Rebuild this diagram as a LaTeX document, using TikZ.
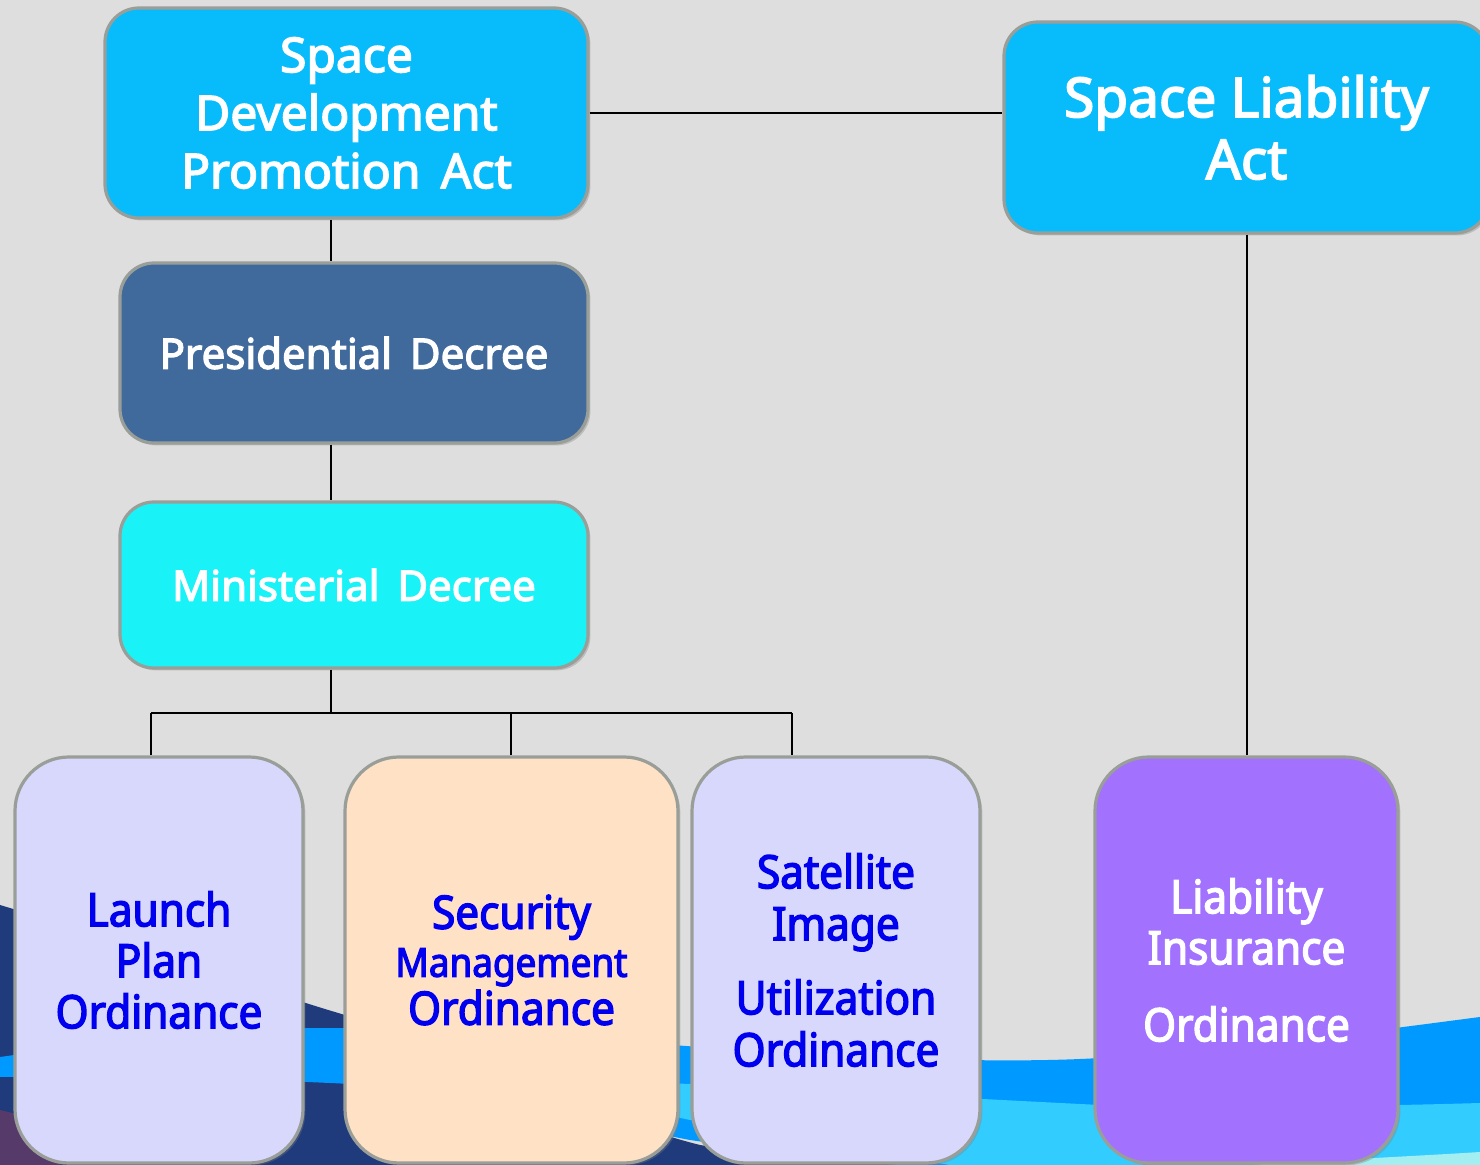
\documentclass[tikz,border=0pt]{standalone}
\usepackage{fontspec}
\setmainfont{Noto Sans}[AutoFakeBold=3]
\newfontfamily\condfont{Noto Sans}[AutoFakeBold=3, FakeStretch=0.92]
\usetikzlibrary{shadows}
\definecolor{bg}{HTML}{DEDEDE}
\definecolor{navy}{HTML}{1F3B7B}
\definecolor{wblue}{HTML}{0099FF}
\definecolor{wlight}{HTML}{33CCFF}
\definecolor{wpale}{HTML}{A3EEF0}
\definecolor{wpurple}{HTML}{553A6A}
\definecolor{actc}{HTML}{08BCFC}
\definecolor{presc}{HTML}{40699C}
\definecolor{minc}{HTML}{19F2F6}
\definecolor{lavc}{HTML}{D8D8FD}
\definecolor{peachc}{HTML}{FFE1C5}
\definecolor{purpc}{HTML}{A271FE}
\definecolor{rim}{HTML}{9A9E98}
\definecolor{txtblue}{HTML}{0000EE}
\begin{document}
\begin{tikzpicture}[x=0.5pt,y=-0.5pt,
  box/.style={rounded corners=17pt, draw=rim, line width=1.6pt, align=center,
    inner sep=0pt, font=\bfseries, text=white,
    drop shadow={shadow xshift=1.2pt,shadow yshift=-1.2pt,opacity=.35}},
  tall/.style={box, rounded corners=27pt, minimum height=203pt},
  link/.style={draw=black, line width=1pt}]
\useasboundingbox (0,0) rectangle (1480,1165);
\fill[bg] (0,0) rectangle (1480,1165);
% background waves
\fill[navy] (0,905) .. controls (150,950) and (260,990) .. (345,1015)
  .. controls (480,1060) and (600,1120) .. (700,1145)
  .. controls (800,1160) and (880,1165) .. (950,1165) -- (0,1165) -- cycle;
\fill[wpurple] (0,1110) -- (60,1125) -- (60,1165) -- (0,1165) -- cycle;
\fill[wblue] (0,1057) .. controls (120,1040) and (230,1028) .. (330,1028)
  .. controls (480,1030) and (600,1040) .. (700,1047)
  .. controls (850,1058) and (1000,1064) .. (1100,1058)
  .. controls (1250,1048) and (1380,1030) .. (1480,1017)
  -- (1480,1165) -- (900,1165)
  .. controls (820,1160) and (760,1150) .. (690,1140)
  .. controls (560,1115) and (450,1088) .. (330,1083)
  .. controls (220,1078) and (100,1076) .. (0,1077) -- cycle;
\fill[wlight] (560,1078) .. controls (620,1080) and (660,1083) .. (690,1084)
  .. controls (850,1092) and (1000,1100) .. (1100,1105)
  .. controls (1250,1108) and (1380,1106) .. (1480,1103)
  -- (1480,1165) -- (950,1165)
  .. controls (850,1150) and (760,1128) .. (690,1120)
  .. controls (640,1110) and (600,1092) .. (560,1078) -- cycle;
\fill[wpale] (1250,1165) .. controls (1330,1160) and (1400,1157) .. (1480,1152) -- (1480,1165) -- cycle;

% nodes
\node[box, fill=actc, minimum width=241.5pt, minimum height=105pt,
  font=\bfseries\fontsize{24}{29}\selectfont] (sdpa) at (346.5,113)
  {Space\\Development\\Promotion\, Act};
\node[box, fill=actc, minimum width=242.5pt, minimum height=105.5pt,
  font=\bfseries\fontsize{27.5}{31}\selectfont] (sla) at (1246.5,127.5)
  {Space Liability\\Act};
\node[box, fill=presc, minimum width=234pt, minimum height=90pt,
  font=\bfseries\fontsize{21}{24}\selectfont] (pd) at (354,353)
  {Presidential\, Decree};
\node[box, fill=minc, minimum width=234pt, minimum height=83pt,
  font=\bfseries\fontsize{21}{24}\selectfont] (md) at (354,585)
  {Ministerial\, Decree};
\node[tall, fill=lavc, minimum width=144pt, text=txtblue,
  font=\condfont\bfseries\fontsize{23}{25.5}\selectfont] (lpo) at (159,960)
  {Launch\\Plan\\Ordinance};
\node[tall, fill=peachc, minimum width=166.5pt, text=txtblue,
  font=\condfont\bfseries\fontsize{23}{24}\selectfont] (smo) at (511.5,960)
  {Security\\{\fontsize{20}{24}\selectfont Management}\\Ordinance};
\node[tall, fill=lavc, minimum width=144pt, text=txtblue,
  font=\condfont\bfseries\fontsize{23}{26}\selectfont] (sio) at (836,960)
  {Satellite\\Image\\[11pt]Utilization\\Ordinance};
\node[tall, fill=purpc, minimum width=151.5pt,
  font=\condfont\bfseries\fontsize{23}{25.5}\selectfont] (lio) at (1246.5,960)
  {Liability\\Insurance\\[13pt]Ordinance};

% connectors
\coordinate (trunk) at (331,713);
\coordinate (busL) at (151,713);
\coordinate (busM) at (511,713);
\coordinate (busR) at (792,713);
\draw[link] (sdpa.east) -- (sla.west |- sdpa.east);
\draw[link] (sdpa.south -| trunk) -- (pd.north -| trunk);
\draw[link] (pd.south -| trunk) -- (md.north -| trunk);
\draw[link] (md.south -| trunk) -- (trunk);
\draw[link] (busL) -- (busR);
\draw[link] (busL) -- (lpo.north -| busL);
\draw[link] (busM) -- (smo.north -| busM);
\draw[link] (busR) -- (sio.north -| busR);
\draw[link] (sla.south) -- (lio.north);
\end{tikzpicture}
\end{document}
